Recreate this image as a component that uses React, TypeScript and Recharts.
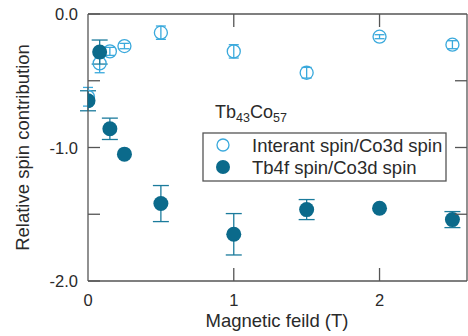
import React from "react";
import { ScatterChart, Scatter, XAxis, YAxis, ErrorBar, Customized } from "recharts";

const fields = [0, 0.08, 0.15, 0.25, 0.5, 1, 1.5, 2, 2.5];
const interant = [-0.62, -0.37, -0.28, -0.24, -0.14, -0.28, -0.44, -0.17, -0.23];
const interantErr = [0.07, 0.07, 0.03, 0.02, 0.05, 0.05, 0.04, 0.015, 0.03];
const tb4f = [-0.65, -0.285, -0.86, -1.05, -1.42, -1.65, -1.465, -1.455, -1.54];
const tb4fErr = [0.075, 0.09, 0.08, 0.0, 0.135, 0.155, 0.075, 0.0, 0.06];

const xTicks = [0, 1, 2];
const topTicks = [1, 2];
const yTicks = [-2, -1.5, -1, -0.5, 0];
const yLabelTicks = [-2, -1, 0];
const rightTicks = [-1.5, -1, -0.5];
const seriesNames = ["Interant spin/Co3d spin", "Tb4f spin/Co3d spin"];
const xTitle = "Magnetic feild (T)";
const yTitle = "Relative spin contribution";

const FONT = "'Liberation Sans', Arial, sans-serif";
const FRAME = "#555555";
const TEXT = "#2a2a2a";
const OPEN = "#3aa9dc";
const FILL = "#0b6a8b";
const FILL_ERR = "#1b7b9c";

const openData = fields.map((x, i) => ({ x, y: interant[i], err: interantErr[i] }));
const fillData = fields.map((x, i) => ({ x, y: tb4f[i], err: tb4fErr[i] }));

const OpenShape = (p: any) => (
  <circle cx={p.cx} cy={p.cy} r={6.5} fill="none" stroke={OPEN} strokeWidth={1.3} />
);
const FillShape = (p: any) => <circle cx={p.cx} cy={p.cy} r={7.5} fill={FILL} />;

const LeftTick = (p: any) => {
  const v = p.payload.value;
  const labeled = yLabelTicks.includes(v);
  return (
    <g>
      <line x1={p.x} x2={p.x + 12} y1={p.y} y2={p.y} stroke={FRAME} strokeWidth={1.3} />
      {labeled && (
        <text x={p.x - 10} y={p.y + 6} textAnchor="end" fontSize={16.5} fontFamily={FONT} fill={TEXT}>
          {v.toFixed(1)}
        </text>
      )}
    </g>
  );
};

const BottomTick = (p: any) => {
  const v = p.payload.value;
  return (
    <g>
      {v !== 0 && <line x1={p.x} x2={p.x} y1={p.y} y2={p.y - 13} stroke={FRAME} strokeWidth={1.3} />}
      <text x={p.x} y={p.y + 25} textAnchor="middle" fontSize={16.5} fontFamily={FONT} fill={TEXT}>
        {String(v)}
      </text>
    </g>
  );
};

const TopTick = (p: any) => (
  <line x1={p.x} x2={p.x} y1={p.y} y2={p.y + 13} stroke={FRAME} strokeWidth={1.3} />
);

const RightTick = (p: any) => (
  <line x1={p.x} x2={p.x - 12} y1={p.y} y2={p.y} stroke={FRAME} strokeWidth={1.3} />
);

const Annotations = () => (
  <g fontFamily={FONT} fill={TEXT}>
    <text x={277} y={327} textAnchor="middle" fontSize={18.5}>
      {xTitle}
    </text>
    <text
      x={22}
      y={147.5}
      textAnchor="middle"
      dominantBaseline="central"
      fontSize={18.5}
      transform="rotate(-90 22 147.5)"
    >
      {yTitle}
    </text>
    <text x={215} y={118} fontSize={18}>
      <tspan>Tb</tspan>
      <tspan fontSize={12.5} dy={4}>43</tspan>
      <tspan dy={-4}>Co</tspan>
      <tspan fontSize={12.5} dy={4}>57</tspan>
    </text>
    <rect x={203} y={133} width={243} height={48} fill="none" stroke={FRAME} strokeWidth={1.3} />
    <circle cx={223} cy={145} r={6} fill="none" stroke={OPEN} strokeWidth={1.3} />
    <circle cx={223} cy={167} r={7} fill={FILL} />
    <text x={252} y={151.5} fontSize={18.5}>
      {seriesNames[0]}
    </text>
    <text x={252} y={173.5} fontSize={18.5}>
      {seriesNames[1]}
    </text>
  </g>
);

export default function App() {
  return (
    <div style={{ position: "absolute", left: 0, top: 0, width: 468, height: 336, background: "#fff" }}>
      <ScatterChart width={468} height={336} margin={{ top: 0, right: 0, bottom: 0, left: 0 }}>
        <XAxis
          xAxisId="bottom"
          type="number"
          dataKey="x"
          domain={[0, 2.6]}
          ticks={xTicks}
          allowDataOverflow
          height={55}
          orientation="bottom"
          axisLine={{ stroke: FRAME, strokeWidth: 1.3 }}
          tickLine={false}
          tickSize={0}
          tickMargin={0}
          tick={BottomTick}
          interval={0}
        />
        <XAxis
          xAxisId="top"
          type="number"
          dataKey="x"
          domain={[0, 2.6]}
          ticks={topTicks}
          allowDataOverflow
          height={14}
          orientation="top"
          axisLine={{ stroke: FRAME, strokeWidth: 1.3 }}
          tickLine={false}
          tickSize={0}
          tickMargin={0}
          tick={TopTick}
          interval={0}
        />
        <YAxis
          yAxisId="left"
          type="number"
          dataKey="y"
          domain={[-2, 0]}
          ticks={yTicks}
          allowDataOverflow
          width={88}
          orientation="left"
          axisLine={{ stroke: FRAME, strokeWidth: 1.3 }}
          tickLine={false}
          tickSize={0}
          tickMargin={0}
          tick={LeftTick}
          interval={0}
        />
        <YAxis
          yAxisId="right"
          type="number"
          dataKey="y"
          domain={[-2, 0]}
          ticks={rightTicks}
          allowDataOverflow
          width={1}
          orientation="right"
          axisLine={{ stroke: FRAME, strokeWidth: 1.3 }}
          tickLine={false}
          tickSize={0}
          tickMargin={0}
          tick={RightTick}
          interval={0}
        />
        <Scatter
          name={seriesNames[0]}
          data={openData}
          xAxisId="bottom"
          yAxisId="left"
          shape={OpenShape}
          isAnimationActive={false}
        >
          <ErrorBar dataKey="err" direction="y" width={5} stroke={OPEN} strokeWidth={1.3} isAnimationActive={false} />
        </Scatter>
        <Scatter
          name={seriesNames[1]}
          data={fillData}
          xAxisId="bottom"
          yAxisId="left"
          shape={FillShape}
          isAnimationActive={false}
        >
          <ErrorBar dataKey="err" direction="y" width={8} stroke={FILL_ERR} strokeWidth={1.3} isAnimationActive={false} />
        </Scatter>
        <Customized component={Annotations} />
      </ScatterChart>
    </div>
  );
}
